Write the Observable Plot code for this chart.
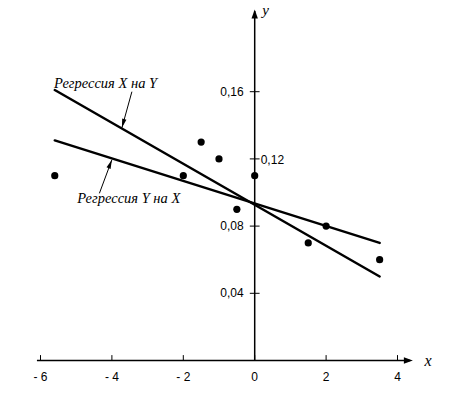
<!DOCTYPE html>
<html>
<head>
<meta charset="utf-8">
<script src="https://cdn.jsdelivr.net/npm/d3@7"></script>
<script src="https://cdn.jsdelivr.net/npm/@observablehq/plot@0.6"></script>
<style>
  html, body { margin: 0; padding: 0; background: #fff; }
</style>
</head>
<body>
<div id="chart"></div>
<script>
// Observed points
const pointsX = [-5.6, -2.0, -1.5, -1.0, -0.5, 0.0, 1.5, 2.0, 3.5];
const pointsY = [0.11, 0.11, 0.13, 0.12, 0.09, 0.11, 0.07, 0.08, 0.06];

// Regression lines (end points)
const lineXonY_x = [-5.6, 3.5];
const lineXonY_y = [0.161, 0.050];
const lineYonX_x = [-5.6, 3.5];
const lineYonX_y = [0.131, 0.070];

// Ticks
const xTicks = [-6, -4, -2, 0, 2, 4];
const yTicksLeft = [0.04, 0.08, 0.16];
const yTicksRight = [0.12];

// Axis extents
const xAxisFrom = -6.1, xAxisTo = 4.35;
const yAxisFrom = 0, yAxisTo = 0.208;

// Annotations
const labelXonY = "Регрессия X на Y";
const labelYonX = "Регрессия Y на X";
const labelXonYpos = [-5.62, 0.1625];
const labelYonXpos = [-4.97, 0.0935];
const arrowXonY = [-3.44, 0.160, -3.72, 0.1385];
const arrowYonX = [-4.35, 0.0995, -4.0, 0.1195];

const fmtX = d => d < 0 ? "- " + (-d) : String(d);
const fmtY = d => d.toFixed(2).replace(".", ",");

const points = pointsX.map((x, i) => ({x, y: pointsY[i]}));
const lineA = lineXonY_x.map((x, i) => ({x, y: lineXonY_y[i]}));
const lineB = lineYonX_x.map((x, i) => ({x, y: lineYonX_y[i]}));

const headUp = {draw(c) { c.moveTo(0, 0); c.lineTo(-3.2, 9); c.lineTo(3.2, 9); c.closePath(); }};
const smallHead = {draw(c) { c.moveTo(0, 0); c.lineTo(-2.2, 9); c.lineTo(2.2, 9); c.closePath(); }};
const stick = {draw(c, l) { c.moveTo(0, 0); c.lineTo(0, -l); }};

const serif = "'Liberation Serif', 'DejaVu Serif', serif";

const chart = Plot.plot({
  width: 471,
  height: 393,
  marginLeft: 40,
  marginRight: 74,
  marginTop: 24,
  marginBottom: 33,
  x: {domain: [-6, 4], axis: null},
  y: {domain: [0, 0.2], axis: null},
  style: {fontFamily: "'Liberation Sans', Arial, sans-serif", fontSize: "12px", background: "#fff", color: "#000"},
  marks: [
    // axes lines
    Plot.link([{x1: xAxisFrom, x2: xAxisTo, y1: 0, y2: 0}], {x1: "x1", x2: "x2", y1: "y1", y2: "y2", stroke: "#000", strokeWidth: 1.5}),
    Plot.link([{x1: 0, x2: 0, y1: yAxisFrom, y2: yAxisTo}], {x1: "x1", x2: "x2", y1: "y1", y2: "y2", stroke: "#000", strokeWidth: 1.5}),
    // arrow heads
    Plot.dot([{x: 0, y: yAxisTo + 0.001}], {x: "x", y: "y", symbol: headUp, fill: "#000", stroke: "none", rotate: 0}),
    Plot.dot([{x: xAxisTo + 0.08, y: 0}], {x: "x", y: "y", symbol: headUp, fill: "#000", stroke: "none", rotate: 90}),
    // x ticks (upward)
    Plot.vector(xTicks, {x: d => d, y: 0, length: 5, anchor: "start", rotate: 0, shape: stick, stroke: "#000", strokeWidth: 1}),
    // y ticks (crossing)
    Plot.vector([...yTicksLeft, ...yTicksRight], {x: 0, y: d => d, length: 9, anchor: "middle", rotate: 90, shape: stick, stroke: "#000", strokeWidth: 1}),
    // tick labels
    Plot.text(xTicks, {x: d => d, y: 0, text: fmtX, dy: 12, lineAnchor: "top", fill: "#000"}),
    Plot.text(yTicksLeft, {x: 0, y: d => d, text: fmtY, dx: -11, textAnchor: "end", fill: "#000"}),
    Plot.text(yTicksRight, {x: 0, y: d => d, text: fmtY, dx: 6, dy: 1, textAnchor: "start", fill: "#000"}),
    // axis names
    Plot.text(["y"], {x: 0, y: yAxisTo, text: d => d, dx: 11, dy: -1, fontStyle: "italic", fontFamily: serif, fontSize: 15, fill: "#000"}),
    Plot.text(["x"], {x: xAxisTo, y: 0, text: d => d, dx: 18, dy: 0, fontStyle: "italic", fontFamily: serif, fontSize: 16, fill: "#000"}),
    // regression lines
    Plot.line(lineA, {x: "x", y: "y", stroke: "#000", strokeWidth: 2.5}),
    Plot.line(lineB, {x: "x", y: "y", stroke: "#000", strokeWidth: 2.5}),
    // points
    Plot.dot(points, {x: "x", y: "y", r: 3.6, fill: "#000", stroke: "none"}),
    // annotation arrows (shaft + filled head)
    Plot.link([arrowXonY], {x1: d => d[0], y1: d => d[1], x2: d => d[2], y2: d => d[3], stroke: "#000", strokeWidth: 1}),
    Plot.link([arrowYonX], {x1: d => d[0], y1: d => d[1], x2: d => d[2], y2: d => d[3], stroke: "#000", strokeWidth: 1}),
    Plot.dot([arrowXonY], {x: d => d[2], y: d => d[3], symbol: smallHead, fill: "#000", stroke: "none", rotate: 195.5}),
    Plot.dot([arrowYonX], {x: d => d[2], y: d => d[3], symbol: smallHead, fill: "#000", stroke: "none", rotate: 21.8}),
    // annotation texts
    Plot.text([labelXonY], {x: labelXonYpos[0], y: labelXonYpos[1], text: d => d, textAnchor: "start", lineAnchor: "bottom", fontStyle: "italic", fontFamily: serif, fontSize: 14.5, fill: "#000"}),
    Plot.text([labelYonX], {x: labelYonXpos[0], y: labelYonXpos[1], text: d => d, textAnchor: "start", lineAnchor: "bottom", fontStyle: "italic", fontFamily: serif, fontSize: 14.5, fill: "#000"})
  ]
});
document.getElementById("chart").appendChild(chart);
</script>
</body>
</html>
